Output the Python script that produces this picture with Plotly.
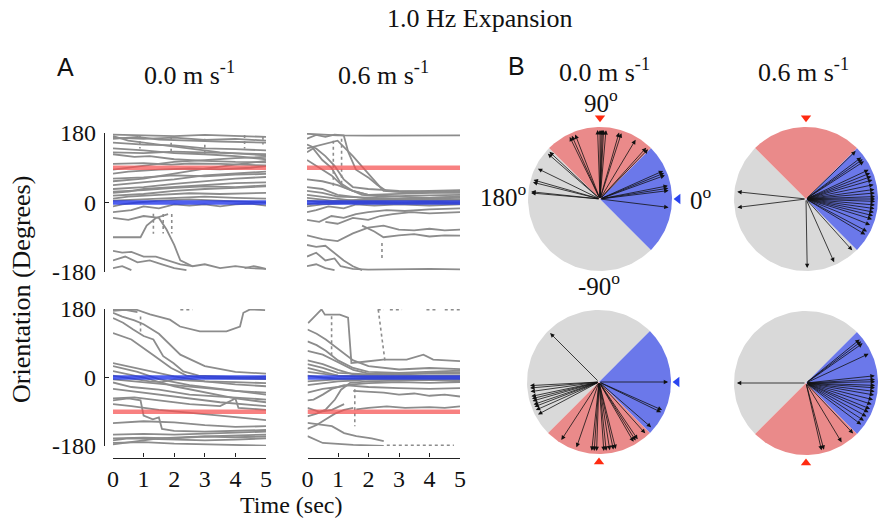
import numpy as np
import plotly.graph_objects as go

W, H = 882, 522
SERIF = "Liberation Serif"
SANS = "Liberation Sans"
GRAY = "#8c8c8c"

# ---------------- data: heading trajectories (time s, orientation deg) ----------------
TIME_TICKS = [0, 1, 2, 3, 4, 5]
ORI_TICKS = [-180, 0, 180]
CONTROL_ORI = 0
TARGET_TOP = 90
TARGET_BOTTOM = -90

# top-left: 0.0 m/s, target 90
TL_T = [
    [0, 1, 2, 3, 4, 5], [0, 0.8, 1.5, 2.5, 3.5, 5], [0, 1, 2, 3, 4, 5],
    [0, 0.5, 1.5, 2.5, 3.5, 5], [0, 1, 2, 3, 4, 5], [0, 0.7, 1.2, 2, 3, 4, 5],
    [0, 1, 1.9, 2.5, 3.5, 5], [0, 1, 2, 3, 4, 5], [0, 0.5, 1.5, 2.5, 3.5, 4.5, 5],
    [0, 1, 2, 3, 4, 5], [0, 1, 2, 3, 4, 5], [0, 0.5, 1, 2, 3, 4, 5],
    [0, 1, 2, 3, 4, 5], [0, 0.5, 1.5, 2.5, 3.5, 5], [0, 1, 2, 3, 4, 5],
    [0, 0.3, 0.8, 1.5, 2.5, 3, 4, 5], [0, 0.6, 1, 1.5, 2, 2.5, 3, 3.5, 4, 4.5, 5],
    [0, 0.9, 1.1, 1.4, 1.8], [0, 0.5, 1, 1.5, 1.75, 2.0, 2.2, 2.6, 3, 3.5, 4, 4.5, 5],
    [0, 0.3, 0.6, 1, 1.4, 1.8, 2.2, 2.6], [0, 0.4, 0.8, 1.2, 1.6, 2.0, 2.4],
    [4.3, 4.6, 4.8, 5], [0, 0.3, 0.6],
    [0, 1, 2, 3, 4, 5], [0, 1, 2, 3, 4, 5], [0, 1, 2, 3, 4, 5], [0, 1, 2, 3, 4, 5], [0, 1, 2, 3, 4, 5],
]
TL_V = [
    [176, 174, 172, 175, 173, 170], [165, 170, 163, 160, 158, 155], [155, 150, 148, 140, 138, 135],
    [172, 160, 150, 140, 130, 122], [140, 135, 128, 125, 120, 112], [125, 118, 120, 112, 108, 105, 104],
    [100, 102, 98, 101, 100, 96], [55, 62, 75, 88, 98, 108], [75, 80, 85, 88, 86, 90, 94],
    [45, 52, 60, 70, 75, 80], [35, 40, 48, 55, 62, 66], [25, 28, 35, 40, 45, 50, 52],
    [18, 22, 30, 35, 38, 42], [10, 15, 20, 24, 22, 25], [5, 8, 12, 15, 12, 10],
    [-10, -5, 0, 5, 8, 6, 3, 0], [-25, -20, -10, -15, -5, -8, -5, -10, -5, -3, -8],
    [-90, -90, -60, -40, -30], [-40, -45, -35, -40, -70, -110, -150, -165, -160, -170, -165, -170, -172],
    [-125, -130, -128, -140, -140, -150, -160, -165], [-150, -140, -155, -150, -160, -170, -175],
    [-170, -165, -168, -172], [-170, -165, -175],
    [168, 165, 168, 162, 165, 160], [130, 128, 132, 130, 128, 125], [85, 95, 105, 110, 115, 118],
    [62, 65, 70, 68, 72, 74], [28, 32, 38, 42, 40, 44],
]
TL_DOT_T = [[1.32, 1.32], [1.64, 1.64], [1.92, 1.92], [0.88, 0.88], [1.9, 1.9], [3.0, 3.0], [4.3, 4.3], [4.9, 4.9]]
TL_DOT_V = [[-29, -81], [-30, -80], [-30, -80], [175, 140], [170, 130], [165, 120], [175, 140], [170, 150]]

# top-right: 0.6 m/s, target 90
TR_T = [
    [0, 0.5, 1, 2, 3, 4, 5], [0, 0.3, 0.6, 0.9, 1.2, 1.35, 1.6, 2.0, 2.3, 2.6, 3, 4, 5],
    [0, 0.3, 0.6, 0.9, 1.2, 1.5, 2, 3, 4, 5], [0, 0.2, 0.5, 0.8, 1.1, 1.5, 2, 3, 4, 5],
    [0, 0.4, 0.8, 1.2, 1.8, 2.5, 3.5, 5], [0, 0.5, 1, 1.5, 2, 3, 4, 5],
    [0, 0.5, 1, 1.5, 2, 3, 4, 5], [0, 0.5, 1, 1.5, 2, 3, 4, 5], [0, 0.5, 1, 2, 3, 4, 5],
    [0, 0.5, 1, 2, 3, 4, 5], [0, 0.3, 0.7, 1.2, 1.6, 2.2, 3, 4, 5],
    [0, 0.4, 0.8, 1.2, 1.6, 2, 2.6, 3.2, 4, 5], [0.6, 1, 1.5, 2, 2.4, 2.8, 3.4, 4, 5],
    [0, 0.5, 1, 1.5, 2, 2.5, 3, 3.5, 4, 4.5, 5], [1.8, 2.2, 2.5, 3, 3.5, 4, 4.5, 5],
    [0, 0.3, 0.6, 0.9, 1.2, 1.5, 1.8], [0, 0.3, 0.6, 0.9, 1.1, 1.5, 2, 3, 4, 5], [0, 0.3, 0.6, 0.9],
    [0, 0.5, 1, 2, 3, 4, 5], [0, 0.5, 1, 2, 3, 4, 5], [0, 0.5, 1, 2, 3, 4, 5],
    [0, 0.5, 1, 1.5, 2.5, 3.5, 5],
]
TR_V = [
    [178, 176, 174, 173, 173, 174, 174], [165, 175, 170, 176, 174, 130, 85, 65, 45, 30, 28, 30, 32],
    [150, 140, 120, 95, 60, 40, 35, 30, 28, 30], [130, 140, 110, 90, 50, 30, 20, 22, 25, 25],
    [110, 90, 70, 40, 20, 15, 18, 20], [60, 55, 45, 30, 20, 15, 12, 15],
    [40, 35, 20, 15, 10, 8, 10, 12], [20, 15, 10, 5, 5, 5, 8, 5], [5, 2, 0, 2, 0, 2, 0],
    [-10, -5, -3, 0, -2, 0, -3], [-25, -20, -10, -15, -5, -8, -5, -8, -5],
    [-45, -50, -35, -40, -30, -25, -20, -22, -18, -15], [-50, -55, -40, -45, -35, -30, -25, -28, -25],
    [-85, -95, -100, -80, -65, -60, -70, -72, -68, -72, -70], [-60, -75, -90, -85, -82, -88, -85, -86],
    [-110, -115, -112, -130, -150, -165, -175], [-140, -130, -150, -145, -165, -172, -174, -173, -172, -173],
    [-165, -160, -170, -175],
    [30, 25, 15, 12, 10, 12, 15], [-5, 0, 5, 8, 6, 5, 8], [12, 8, 3, -2, -4, -3, -2],
    [140, 150, 160, 120, 30, 25, 28],
]
TR_DOT_T = [[0.86, 0.86], [1.13, 1.13], [2.45, 2.45]]
TR_DOT_V = [[160, 40], [165, 40], [-105, -150]]

# bottom-left: 0.0 m/s, target -90
BL_T = [
    [0, 0.4, 0.8], [0, 0.77, 1.21, 1.86, 2.19, 2.84, 3.71, 4.15, 4.26, 4.48, 4.97],
    [0, 0.33, 0.66, 1.0, 1.32, 1.64, 1.97, 2.3, 2.8, 3.5, 4.2, 5], [0, 0.6, 1.3, 1.9, 2.4, 3, 5],
    [0, 0.3, 0.7, 1.0, 1.5, 2.2, 3, 4, 5], [0, 1, 2, 3, 4, 5], [0, 0.8, 1.5, 2.5, 3.5, 5],
    [0, 1, 2, 3, 4, 5], [0, 0.6, 1.5, 2.5, 3.5, 5], [0, 0.5, 1.5, 2.5, 3.5, 4.5, 5],
    [0, 0.7, 1.5, 2.5, 3.5, 4, 4.1, 5], [0, 0.6, 1.5, 2.5, 3.5, 4.5, 5],
    [0, 0.5, 0.9, 1.0, 1.3, 1.5, 1.6, 2, 3, 4, 5], [0, 1, 2, 3, 4, 5],
    [0, 0.8, 1.5, 2.5, 3.5, 5], [0, 1, 2, 3, 4, 5], [0, 0.5, 1.5, 3, 4, 5],
    [0, 0.4, 0.8, 1.2, 1.6, 2, 2.5, 3, 4, 5],
    [0, 1, 2, 3, 4, 5], [0, 1, 2, 3, 4, 5], [0, 1, 2, 3, 4, 5],
]
BL_V = [
    [175, 178, 172], [178, 178, 166, 152, 134, 121, 121, 134, 170, 179, 177],
    [156, 144, 126, 109, 100, 56, 38, 16, 5, 2, 0, 2], [117, 100, 60, 25, 5, -1, -4],
    [170, 160, 150, 140, 115, 60, 30, 15, 10], [38, 20, 3, -10, -18, -23], [30, 15, -4, -20, -30, -45],
    [17, 0, -23, -40, -55, -65], [-13, -25, -32, -45, -50, -58], [-30, -35, -45, -55, -65, -72, -75],
    [-55, -52, -60, -70, -75, -55, -80, -85], [-70, -75, -85, -92, -100, -108, -112],
    [-60, -55, -60, -100, -110, -105, -135, -140, -142, -140, -138], [-150, -148, -150, -148, -145, -142],
    [-176, -167, -160, -156, -154, -150], [-172, -170, -174, -176, -178, -179], [-165, -160, -162, -165, -163, -160],
    [5, 0, -5, -10, -12, -5, -8, -10, -12, -15],
    [-5, -12, -20, -28, -35, -40], [-160, -158, -160, -155, -157, -155], [-120, -115, -118, -125, -130, -128],
]
BL_DOT_T = [[2.2, 2.6], [0.9, 0.9]]
BL_DOT_V = [[178, 178], [160, 120]]

# bottom-right: 0.6 m/s, target -90
BR_T = [
    [0.02, 0.29, 0.46, 0.57, 0.73, 1.06, 1.33, 1.39, 1.44, 1.93, 2.48, 3.25, 3.8, 4.12, 5],
    [0, 0.3, 0.6, 1, 1.5, 2, 3, 4, 5], [0, 0.3, 0.6, 1.0, 1.5, 2, 3, 4, 5],
    [0, 0.5, 1, 1.5, 2, 3, 4, 5], [0, 0.5, 1, 1.5, 2, 3, 4, 5], [0, 0.5, 1, 2, 3, 4, 5],
    [0, 0.5, 1, 2, 3, 4, 5], [0, 0.5, 1, 1.5, 2, 3, 4, 5], [0, 0.5, 1, 1.5, 2, 3, 4, 5],
    [0, 0.3, 0.6, 0.9, 1.1, 1.4, 2, 3, 4, 5], [0, 0.2, 0.5, 0.8, 1.2, 2, 3, 4, 5],
    [1.5, 2, 2.5, 3, 3.5, 4, 4.5, 5], [1.6, 2.0, 2.6, 3.2, 4, 4.5, 5],
    [0, 0.8, 1.2, 1.6, 2.1, 2.5], [0, 0.5, 1.5, 2.5], [0, 0.3, 0.6, 0.9, 1.2, 1.5], [0, 0.4, 0.8, 1.2],
    [0, 0.5, 1, 2, 3, 4, 5], [0, 0.5, 1, 2, 3, 4, 5], [0, 0.5, 1, 2, 3, 4, 5],
]
BR_V = [
    [143, 166, 179, 165, 165, 165, 157, 100, 38, 42, 47, 47, 60, 47, 43],
    [126, 115, 100, 75, 45, 30, 21, 25, 22], [95, 85, 70, 45, 25, 15, 12, 15, 18],
    [70, 60, 40, 20, 10, 8, 10, 10], [45, 35, 20, 8, 5, 3, 5, 5], [25, 15, 5, 2, 0, 2, 2],
    [5, 0, -3, -2, -3, -2, -2], [-20, -15, -10, -8, -5, -6, -5, -8], [-40, -30, -25, -18, -15, -12, -14, -12],
    [-102, -95, -84, -58, -32, -14, -10, -8, -6, -10], [-60, -58, -45, -30, -20, -25, -28, -30, -28],
    [-35, -38, -40, -45, -42, -48, -45, -50], [-84, -80, -76, -80, -78, -80, -76],
    [-119, -128, -146, -154, -160, -167], [-154, -172, -177, -180], [-135, -125, -110, -95, -85, -80],
    [-80, -90, -85, -70],
    [15, 10, 5, 3, 5, 4, 3], [-10, -8, -5, -4, -2, -3, -4], [35, 25, 12, 8, 10, 12, 14],
]
BR_DOT_T = [[2.32, 2.54], [0.79, 0.79], [1.55, 1.55], [2.3, 2.5], [2.7, 3.1], [3.9, 4.2], [4.5, 5.0], [2.6, 4.8]]
BR_DOT_V = [[178, 43], [161, 56], [-31, -128], [178, 178], [178, 178], [178, 178], [178, 178], [-178, -178]]

# ---------------- data: final headings (deg) for circular plots ----------------
CIRC_TL = [139, 137, 154, 164, 166, 175, 174, 116, 114, 111, 92, 90, 89, 88, 87, 85, 74, 72, 59,
           48, 46, 24, 22, 20, 11, 9, 7, -7]
CIRC_TR = [174, -173, -89, -66, -48, -31, -28, -22, -17, -14, -11, -8, -5, -2, 0, 2, 5, 8, 12, 16,
           19, 22, 25, 33, 35, 37, 44]
CIRC_BL = [135, -177, -175, -172, -168, -166, -164, -161, -159, -156, -152, -123, -109, -96, -94, -92,
           -86, -84, -81, -78, -76, -60, -58, -56, -48, -41, -26, -24, 0]
CIRC_BR = [180, -77, -75, -59, -47, -37, -33, -29, -25, -22, -18, -14, -10, -7, -4, -2, 1, 3, 6, 25,
           35, 37, 39]

BLUE_SECTOR_DEG = [-45, 45]
RED_SECTOR_TOP_DEG = [45, 135]
RED_SECTOR_BOTTOM_DEG = [-135, -45]

TITLE = "1.0 Hz Expansion"
COL_TITLES = ["0.0 m s<sup>-1</sup>", "0.6 m s<sup>-1</sup>"]


def fx(x):
    return x / W


def fy(y):
    return 1 - y / H


fig = go.Figure()
layout = {}
annotations = []

# ---------------- trajectory panels ----------------
panels = [
    ("", TL_T, TL_V, TL_DOT_T, TL_DOT_V, TARGET_TOP, (113, 266), (133, 272), True, False),
    ("2", TR_T, TR_V, TR_DOT_T, TR_DOT_V, TARGET_TOP, (307, 460), (133, 272), False, False),
    ("3", BL_T, BL_V, BL_DOT_T, BL_DOT_V, TARGET_BOTTOM, (113, 266), (309, 446), True, True),
    ("4", BR_T, BR_V, BR_DOT_T, BR_DOT_V, TARGET_BOTTOM, (307.5, 460), (309, 446), False, True),
]
for n, Ts, Vs, DTs, DVs, target, (x0, x1), (y0, y1), showy, showx in panels:
    xa, ya = "x" + n, "y" + n
    for t, v in zip(Ts, Vs):
        fig.add_trace(go.Scatter(x=t, y=v, mode="lines", line=dict(color=GRAY, width=1.8),
                                 xaxis=xa, yaxis=ya, showlegend=False, hoverinfo="skip"))
    for t, v in zip(DTs, DVs):
        fig.add_trace(go.Scatter(x=t, y=v, mode="lines", line=dict(color=GRAY, width=1.6, dash="dot"),
                                 xaxis=xa, yaxis=ya, showlegend=False, hoverinfo="skip"))
    fig.add_trace(go.Scatter(x=[TIME_TICKS[0], TIME_TICKS[-1]], y=[target, target], mode="lines",
                             line=dict(color="rgba(245,80,80,0.72)", width=4.5),
                             xaxis=xa, yaxis=ya, showlegend=False, hoverinfo="skip"))
    fig.add_trace(go.Scatter(x=[TIME_TICKS[0], TIME_TICKS[-1]], y=[CONTROL_ORI, CONTROL_ORI], mode="lines",
                             line=dict(color="rgba(30,50,235,0.78)", width=4.5),
                             xaxis=xa, yaxis=ya, showlegend=False, hoverinfo="skip"))
    xaxis = dict(domain=[fx(x0), fx(x1)], range=[0, 5], showgrid=False, zeroline=False,
                 fixedrange=True, automargin=False)
    if showx:
        xaxis.update(anchor="free", position=fy(457.5), showline=True, linecolor="#222", linewidth=1.2,
                     ticks="inside", ticklen=4, tickcolor="#222", tickvals=TIME_TICKS,
                     ticktext=[str(v) for v in TIME_TICKS],
                     tickfont=dict(family=SERIF, size=24, color="#111"), ticklabelstandoff=0)
    else:
        xaxis.update(visible=False, anchor=ya)
    yaxis = dict(domain=[fy(y1), fy(y0)], range=[-180, 180], showgrid=False, zeroline=False,
                 fixedrange=True, automargin=False)
    if showy:
        yaxis.update(anchor="free", position=fx(104), showline=True, linecolor="#222", linewidth=1.2,
                     ticks="inside", ticklen=4, tickcolor="#222", tickvals=ORI_TICKS,
                     ticktext=[str(v) for v in ORI_TICKS],
                     tickfont=dict(family=SERIF, size=24, color="#111"), ticklabelstandoff=3)
    else:
        yaxis.update(visible=False, anchor=xa)
    layout["xaxis" + n] = xaxis
    layout["yaxis" + n] = yaxis

# ---------------- circular panels ----------------
R = 72.0
ARROW_LEN = 0.96


def sector(a0, a1):
    th = np.radians(np.linspace(a0, a1, 80))
    return [0] + list(np.cos(th)) + [0], [0] + list(np.sin(th)) + [0]


circ = [
    ("5", 600, 199, CIRC_TL, RED_SECTOR_TOP_DEG, True),
    ("6", 806, 199, CIRC_TR, RED_SECTOR_TOP_DEG, False),
    ("7", 599, 382, CIRC_BL, RED_SECTOR_BOTTOM_DEG, True),
    ("8", 806, 383, CIRC_BR, RED_SECTOR_BOTTOM_DEG, False),
]
for n, cx, cy, angs, red, blue_tri in circ:
    xa, ya = "x" + n, "y" + n
    x0, x1 = max(cx - 95, 0), min(cx + 95, W)
    y0, y1 = cy - 95, cy + 95
    layout["xaxis" + n] = dict(domain=[fx(x0), fx(x1)], range=[(x0 - cx) / R, (x1 - cx) / R],
                               visible=False, anchor=ya, fixedrange=True, automargin=False)
    layout["yaxis" + n] = dict(domain=[fy(y1), fy(y0)], range=[(cy - y1) / R, (cy - y0) / R],
                               visible=False, anchor=xa, fixedrange=True, automargin=False)
    gray = [red[1], red[1] + 180] if red[0] > 0 else [BLUE_SECTOR_DEG[1], BLUE_SECTOR_DEG[1] + 180]
    for (a0, a1), col in [(gray, "#d9d9d9"), (BLUE_SECTOR_DEG, "#6b78ea"), (red, "#ea8a8a")]:
        sx, sy = sector(a0, a1)
        fig.add_trace(go.Scatter(x=sx, y=sy, mode="lines", fill="toself", fillcolor=col,
                                 line=dict(width=0, color=col), xaxis=xa, yaxis=ya,
                                 showlegend=False, hoverinfo="skip"))
    for a in angs:
        r = np.radians(a)
        annotations.append(dict(x=ARROW_LEN * np.cos(r), y=ARROW_LEN * np.sin(r), ax=0, ay=0,
                                xref=xa, yref=ya, axref=xa, ayref=ya, text="", showarrow=True,
                                arrowhead=2, arrowsize=1.1, arrowwidth=0.8, arrowcolor="#111",
                                standoff=0, startstandoff=0))
    ty = (red[0] + red[1]) / 2
    tri_y = 1.13 if ty > 0 else -1.11
    fig.add_trace(go.Scatter(x=[0], y=[tri_y], mode="markers",
                             marker=dict(symbol="triangle-down" if ty > 0 else "triangle-up",
                                         size=9, color="#ff2a10"),
                             xaxis=xa, yaxis=ya, showlegend=False, hoverinfo="skip"))
    if blue_tri:
        fig.add_trace(go.Scatter(x=[1.085], y=[0], mode="markers",
                                 marker=dict(symbol="triangle-left", size=9, color="#2a45f0"),
                                 xaxis=xa, yaxis=ya, showlegend=False, hoverinfo="skip"))


def text(x, y, s, size, family=SERIF, angle=0):
    annotations.append(dict(x=fx(x), y=fy(y), xref="paper", yref="paper", text=s, showarrow=False,
                            font=dict(family=family, size=size, color="#111"), textangle=angle,
                            xanchor="center", yanchor="middle"))


text(480, 19, TITLE, 26)
text(65, 67, "A", 25, SANS)
text(516, 66, "B", 25, SANS)
text(189, 74, COL_TITLES[0], 26)
text(383, 74, COL_TITLES[1], 26)
text(604, 70, COL_TITLES[0], 26)
text(803, 70, COL_TITLES[1], 26)
text(601, 101, "90<sup>o</sup>", 25)
text(503, 195, "180<sup>o</sup>", 25)
text(701, 198, "0<sup>o</sup>", 25)
text(599, 284, "-90<sup>o</sup>", 25)
text(21, 290, "Orientation (Degrees)", 26, angle=-90)
text(291, 505, "Time (sec)", 24)

layout.update(width=W, height=H, margin=dict(l=0, r=0, t=0, b=0, autoexpand=False), paper_bgcolor="white",
              plot_bgcolor="rgba(0,0,0,0)", showlegend=False, annotations=annotations)
fig.update_layout(**layout)
fig.write_html("out.html")
